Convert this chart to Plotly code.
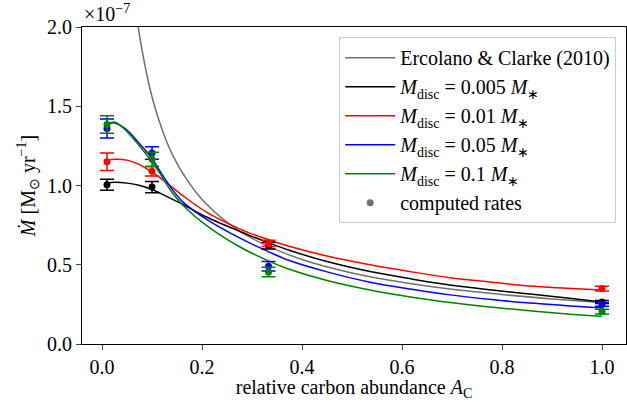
import plotly.graph_objects as go

# ---- data (values in units of 1e-7 Msun/yr) ----
ec_x = [0.065, 0.072, 0.08, 0.09, 0.1, 0.12, 0.14, 0.17, 0.2, 0.25, 0.3, 0.4, 0.5, 0.6, 0.7, 0.8, 0.9, 1.0]
ec_y = [2.18, 2.01, 1.855, 1.695, 1.56, 1.355, 1.20, 1.035, 0.912, 0.767, 0.666, 0.533, 0.448, 0.389, 0.345, 0.312, 0.284, 0.262]

fit_x = [0.01, 0.025, 0.05, 0.076, 0.1, 0.116, 0.136, 0.162, 0.21, 0.276, 0.336, 0.376, 0.45, 0.536, 0.62, 0.696, 0.78, 0.856, 0.93, 1.0]
fit_black = [1.015, 1.02, 1.015, 1.0, 0.975, 0.952, 0.92, 0.88, 0.80, 0.71, 0.635, 0.59, 0.52, 0.457, 0.41, 0.372, 0.34, 0.315, 0.29, 0.265]
fit_red = [1.16, 1.165, 1.16, 1.13, 1.085, 1.05, 1.00, 0.935, 0.83, 0.725, 0.655, 0.615, 0.555, 0.50, 0.455, 0.418, 0.39, 0.366, 0.352, 0.34]
fit_blue = [1.385, 1.395, 1.35, 1.26, 1.17, 1.09, 0.995, 0.895, 0.785, 0.668, 0.578, 0.525, 0.455, 0.39, 0.345, 0.31, 0.28, 0.258, 0.242, 0.227]
fit_green = [1.385, 1.40, 1.34, 1.245, 1.15, 1.075, 0.975, 0.875, 0.745, 0.612, 0.52, 0.47, 0.40, 0.34, 0.295, 0.262, 0.232, 0.21, 0.19, 0.175]

pts_x = [0.01, 0.1, 0.333, 1.0]
pts_black = [1.005, 0.99, 0.62, 0.265]
err_black = [0.035, 0.035, 0.02, 0.01]
pts_red = [1.15, 1.09, 0.635, 0.35]
err_red = [0.055, 0.03, 0.02, 0.015]
pts_blue = [1.36, 1.205, 0.49, 0.25]
err_blue = [0.06, 0.04, 0.03, 0.012]
pts_green = [1.385, 1.165, 0.455, 0.205]
err_green = [0.055, 0.045, 0.03, 0.015]

x_ticks = [0.0, 0.2, 0.4, 0.6, 0.8, 1.0]
y_ticks = [0.0, 0.5, 1.0, 1.5, 2.0]

labels = [
    "Ercolano &amp; Clarke (2010)",
    "<i>M</i><sub>disc</sub> = 0.005 <i>M</i><sub>∗</sub>",
    "<i>M</i><sub>disc</sub> = 0.01 <i>M</i><sub>∗</sub>",
    "<i>M</i><sub>disc</sub> = 0.05 <i>M</i><sub>∗</sub>",
    "<i>M</i><sub>disc</sub> = 0.1 <i>M</i><sub>∗</sub>",
    "computed rates",
]

FONT = "Liberation Serif"
fig = go.Figure()

fig.add_trace(go.Scatter(x=ec_x, y=ec_y, mode="lines", line=dict(color="#707070", width=1.5, shape="spline"),
                         name=labels[0]))
for fy, col, lab in [(fit_black, "black", labels[1]), (fit_red, "red", labels[2]),
                     (fit_blue, "blue", labels[3]), (fit_green, "green", labels[4])]:
    fig.add_trace(go.Scatter(x=fit_x, y=fy, mode="lines", line=dict(color=col, width=1.5, shape="spline"),
                             name=lab))

for py, pe, col in [(pts_black, err_black, "black"), (pts_red, err_red, "red"),
                    (pts_blue, err_blue, "blue"), (pts_green, err_green, "green")]:
    fig.add_trace(go.Scatter(x=pts_x, y=py, mode="markers", marker=dict(color=col, size=7),
                             error_y=dict(type="data", array=pe, visible=True, color=col, thickness=1.5, width=7),
                             showlegend=False))

fig.add_trace(go.Scatter(x=[None], y=[None], mode="markers", marker=dict(color="#707070", size=7),
                         name=labels[5]))

fig.update_layout(
    width=627, height=401,
    margin=dict(l=82, r=1, t=27, b=57),
    paper_bgcolor="white", plot_bgcolor="white",
    font=dict(family=FONT, size=20, color="black"),
    legend=dict(x=0.982, y=0.968, xanchor="right", yanchor="top", itemwidth=50,
                bgcolor="rgba(255,255,255,0.85)", bordercolor="#cccccc", borderwidth=1,
                font=dict(family=FONT, size=20, color="black")),
    xaxis=dict(range=[-0.04, 1.048], tickvals=x_ticks, tickformat=".1f", ticks="outside", ticklen=5,
               tickfont=dict(family=FONT, size=20, color="black"),
               showline=True, linecolor="black", linewidth=1, mirror=True, showgrid=False, zeroline=False,
               title=dict(text="relative carbon abundance <i>A</i><sub>C</sub>", standoff=0,
                          font=dict(family=FONT, size=20, color="black"))),
    yaxis=dict(range=[0, 2.0], tickvals=y_ticks, tickformat=".1f", ticks="outside", ticklen=5,
               tickfont=dict(family=FONT, size=20, color="black"),
               showline=True, linecolor="black", linewidth=1, mirror=True, showgrid=False, zeroline=False,
               title=dict(text="<i>Ṁ</i> [M<sub>⊙</sub> yr<sup>−1</sup>]", standoff=6,
                          font=dict(family=FONT, size=20, color="black"))),
    annotations=[dict(text="×10<sup>−7</sup>", xref="paper", yref="paper", x=0, y=1.0,
                      xanchor="left", yanchor="bottom", showarrow=False,
                      font=dict(family=FONT, size=20, color="black"))],
)

fig.write_html("out.html")
